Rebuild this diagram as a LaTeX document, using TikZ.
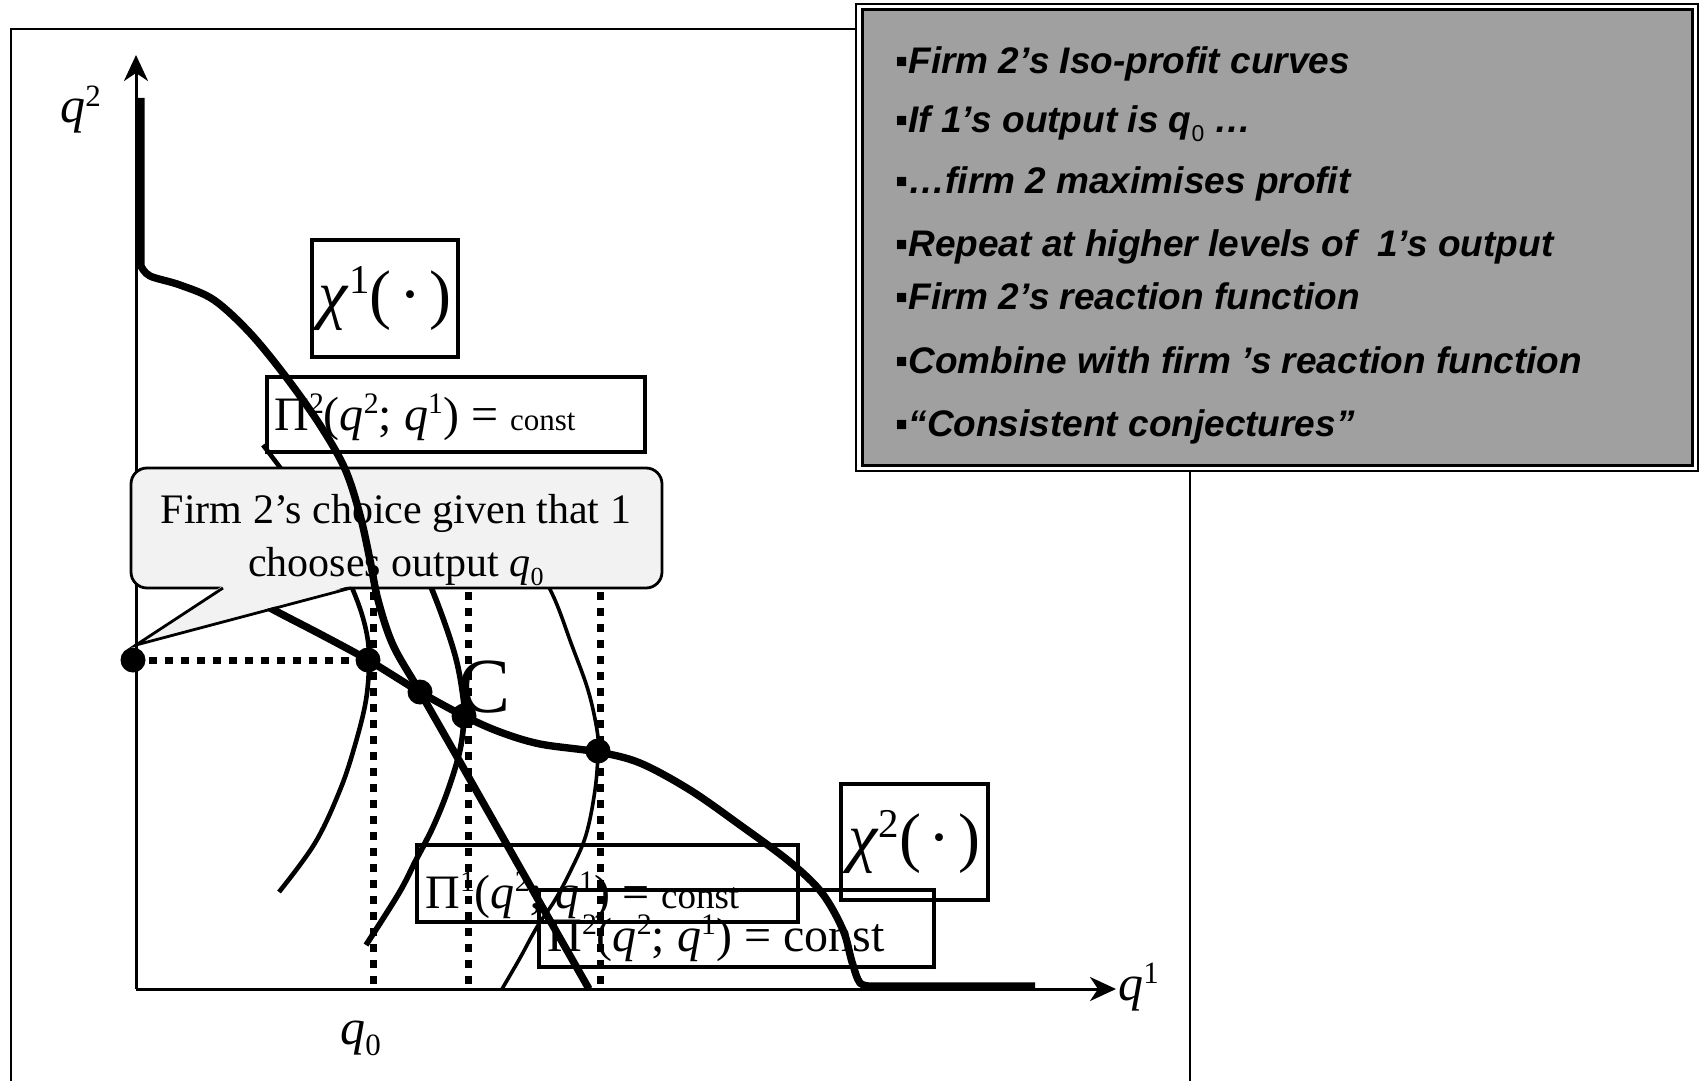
\documentclass[tikz,border=0pt]{standalone}
\usepackage{fontspec}
\usepackage{graphicx}
\setmainfont{Liberation Serif}
\newfontfamily\boxfont{Liberation Sans}
\usetikzlibrary{arrows.meta}
\definecolor{boxgrey}{RGB}{160,160,160}
\definecolor{bubfill}{RGB}{242,242,242}
\newcommand\sups[1]{\raisebox{0.34em}{\scalebox{0.62}{#1}}}
\newcommand\subs[1]{\raisebox{-0.22em}{\scalebox{0.62}{#1}}}
\newcommand\pitxt[2]{Π\sups{#1}(\textit{q}\sups{2}; \textit{q}\sups{1}) = #2}
\newcommand\chitxt[1]{\textit{χ}\sups{#1}(\kern0.12em·\kern0.12em)}
\begin{document}
\begin{tikzpicture}[x=0.5pt,y=-0.5pt,
  thickc/.style={line width=3.7pt, line join=round},
  isoa/.style={line width=2.3pt},
  isob/.style={line width=2.8pt},
  isoc/.style={line width=1.8pt},
  dotline/.style={line width=3.5pt, dash pattern=on 4pt off 4pt},
  axisline/.style={line width=1.5pt, -{Stealth[length=13pt,width=12pt,inset=4pt]}},
  pbox/.style={draw, line width=1.8pt, rectangle, inner sep=0pt},
  cbox/.style={draw, line width=2pt, rectangle, inner sep=0pt},
  blob/.style={circle, fill=black, inner sep=0pt, minimum size=12.5pt},
  listtxt/.style={anchor=base west, inner sep=0pt, font=\boxfont\bfseries\itshape\fontsize{18.5}{22}\selectfont},
  bubtxt/.style={anchor=base, inner sep=0pt, font=\fontsize{21}{25}\selectfont},
  pitx/.style={anchor=base west, inner sep=0pt, font=\fontsize{24}{28}\selectfont},
  axlab/.style={anchor=base west, inner sep=0pt, font=\fontsize{25}{30}\selectfont}]
\useasboundingbox (0,0) rectangle (1701,1081);
% outer frame
\draw[line width=1.2pt] (11,1081) -- (11,29) -- (1190,29) -- (1190,1081);
% grey text box
\node[draw, line width=1pt, fill=white, rectangle, inner sep=0pt, minimum width=421pt, minimum height=233.5pt] (outerbox) at (1277,237.5) {};
\node[draw, line width=1.5pt, fill=boxgrey, rectangle, inner sep=0pt, minimum width=415pt, minimum height=227.5pt] (greybox) at (1277,237.5) {};
\node[listtxt] (l1) at (895,74) {▪Firm 2’s Iso-profit curves};
\node[listtxt] (l2) at (895,133) {▪If 1’s output is q\subs{\mdseries\upshape 0} …};
\node[listtxt] (l3) at (895,193) {▪…firm 2 maximises profit};
\node[listtxt] (l4) at (895,256) {▪Repeat at higher levels of \ 1’s output};
\node[listtxt] (l5) at (895,309) {▪Firm 2’s reaction function};
\node[listtxt] (l6) at (895,373) {▪Combine with firm ’s reaction function};
\node[listtxt] (l7) at (895,436) {▪“Consistent conjectures”};
% axes
\coordinate (O) at (136,989);
\coordinate (ytip) at (136,55);
\coordinate (xtip) at (1116,989);
\draw[axisline] (O) -- (ytip);
\draw[axisline] (O) -- (xtip);
% iso-profit curves
\draw[isoa] plot[smooth, tension=0.6] coordinates {(263,445) (300,495) (333,548) (355,595) (366,630) (369,660) (366,700) (355,745) (340,790) (315,843) (279,892)};
\draw[isob] plot[smooth, tension=0.6] coordinates {(420,560) (440,610) (455,655) (462,690) (464,716) (460,750) (448,790) (433,827) (416,860) (399,893) (366,945)};
\draw[isoc] plot[smooth, tension=0.6] coordinates {(535,560) (555,600) (571,643) (588,690) (597,730) (598,752) (595,790) (586,835) (571,870) (555,900) (537,927) (520,958) (502,989)};
% firm 2 reaction function
\draw[thickc] plot[smooth, tension=0.55] coordinates {(230,585) (272,609) (320,634) (368,660) (420,692) (464,716) (500,732) (540,744) (598,752) (640,763) (690,790) (740,825) (790,862) (822,893) (843,930) (852,962) (860,983) (872,986)} -- (1035,986);
% dotted guide lines
\coordinate (v1a) at (373,560); \coordinate (v1b) at (373,989);
\coordinate (v2a) at (468,560); \coordinate (v2b) at (468,989);
\coordinate (v3a) at (600,560); \coordinate (v3b) at (600,989);
\draw[dotline] (v1a) -- (v1b);
\draw[dotline] (v2a) -- (v2b);
\draw[dotline] (v3a) -- (v3b);
% boxes
\node[pbox, minimum width=189pt, minimum height=37.5pt] (pitwoup) at (456,414.5) {};
\node[pitx] (pitwouptxt) at (274,430) {\pitxt{2}{\fontsize{15.5}{18}\selectfont const}};
\node[pbox, minimum width=190.5pt, minimum height=38.5pt] (pione) at (607.5,883.5) {};
\node[pitx] (pionetxt) at (425,908) {\pitxt{1}{\fontsize{18.5}{22}\selectfont const}};
\node[pbox, minimum width=197.5pt, minimum height=38.5pt] (pitwolo) at (736.5,928.5) {};
\node[pitx] (pitwolotxt) at (547,951) {\pitxt{2}{const}};
\node[cbox, minimum width=73pt, minimum height=58.5pt, font=\fontsize{33}{38}\selectfont] (chione) at (385,298.5) {\chitxt{1}};
\node[cbox, minimum width=73.5pt, minimum height=58pt, font=\fontsize{33}{38}\selectfont] (chitwo) at (914.5,842) {\chitxt{2}};
% speech bubble
\node[draw, line width=1.4pt, fill=bubfill, rounded corners=8pt, rectangle, inner sep=0pt, minimum width=265.5pt, minimum height=60pt] (bubble) at (396.5,528) {};
\coordinate (ptl) at (223,588);
\coordinate (ptr) at (351,588);
\coordinate (ptip) at (136,645);
\fill[bubfill] (223,585.5) -- (ptip) -- (351,585.5) -- cycle;
\draw[line width=1.4pt, line join=miter] (ptl) -- (ptip) -- (ptr);
\node[bubtxt] (bub1) at (396,523) {Firm 2’s choice given that 1};
\node[bubtxt] (bub2) at (396,576) {chooses output \textit{q}\subs{0}};
% firm 1 reaction function
\draw[thickc] (141,98) -- plot[smooth, tension=0.55] coordinates {(141,266) (150,276) (180,285) (214,300) (250,333) (286,377) (320,425) (345,469) (360,515) (370,560) (378,600) (393,645) (420,692) (460,762) (502,836) (544,910) (589,989)};
% points
\node[blob] (d0) at (133,660) {};
\node[blob] (d1) at (368,660) {};
\node[blob] (d2) at (420,692) {};
\node[blob] (d3) at (464,716) {};
\node[blob] (d4) at (598,751) {};
\draw[dotline] (d0.center) -- (d1.center);
\node[anchor=base, inner sep=0pt, font=\fontsize{39}{44}\selectfont] (clab) at (485,712) {C};
% axis labels
\node[axlab] (ylab) at (60,123) {\textit{q}\sups{2}};
\node[axlab] (xlab) at (1118,1000) {\textit{q}\sups{1}};
\node[axlab] (q0lab) at (340,1044) {\textit{q}\subs{0}};
\end{tikzpicture}
\end{document}
